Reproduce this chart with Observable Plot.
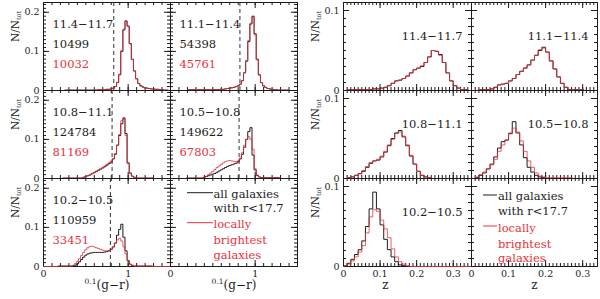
<!DOCTYPE html>
<html><head><meta charset="utf-8">
<script src="https://cdn.jsdelivr.net/npm/d3@7"></script>
<script src="https://cdn.jsdelivr.net/npm/@observablehq/plot@0.6"></script>
<style>
body{margin:0;background:#fff}
#c{position:relative;width:600px;height:299px;overflow:hidden;background:#fff}
#c svg text{font-family:"DejaVu Serif",serif}
</style></head><body><div id="c"></div>
<script>
// ---------- data ----------
const massLabels = ["11.4−11.7","11.1−11.4","10.8−11.1","10.5−10.8","10.2−10.5"];
const nAll = ["10499","54398","124784","149622","110959"];
const nBright = ["10032","45761","81169","67803","33451"];
const colorCut = [0.83, 0.82, 0.81, 0.81, 0.79];
const colorStep = 0.025;
const colorStartAll = [0.5, 0.4, 0.45, 0.375, 0.35];
const colorStartBright = [0.5, 0.4, 0.45, 0.375, 0.325];
const colorAll = [
  [0.001,0.001,0.001,0.001,0.001,0.001,0.002,0.002,0.002,0.002,0.003,0.003,0.004,0.006,0.010,0.020,0.040,0.100,0.155,0.178,0.165,0.120,0.080,0.050,0.030,0.018,0.012,0.009,0.007,0.006,0.005,0.004,0.004,0.003,0.003,0.002,0.002,0.001,0.001],
  [0.002,0.002,0.002,0.002,0.002,0.002,0.002,0.002,0.003,0.003,0.004,0.005,0.006,0.007,0.008,0.010,0.012,0.016,0.025,0.045,0.075,0.125,0.170,0.190,0.145,0.080,0.040,0.020,0.012,0.008,0.005,0.004,0.003,0.002,0.002,0.001,0.001],
  [0.001,0.003,0.005,0.007,0.009,0.012,0.015,0.018,0.021,0.024,0.027,0.030,0.034,0.038,0.042,0.050,0.062,0.085,0.110,0.140,0.153,0.115,0.040,0.014,0.006,0.003,0.001],
  [0.001,0.003,0.005,0.007,0.009,0.011,0.013,0.016,0.019,0.022,0.025,0.028,0.031,0.033,0.035,0.037,0.039,0.043,0.050,0.062,0.080,0.100,0.120,0.130,0.060,0.022,0.008,0.004,0.002],
  [0.001,0.003,0.007,0.012,0.018,0.024,0.029,0.032,0.034,0.035,0.036,0.036,0.036,0.036,0.036,0.037,0.038,0.040,0.044,0.050,0.060,0.080,0.095,0.108,0.075,0.040,0.015,0.006,0.003,0.001]
];
const colorBright = [
  [0.001,0.001,0.001,0.001,0.001,0.001,0.002,0.002,0.002,0.002,0.003,0.003,0.004,0.006,0.010,0.021,0.042,0.102,0.157,0.176,0.163,0.119,0.079,0.050,0.030,0.018,0.012,0.009,0.007,0.006,0.005,0.004,0.004,0.003,0.003,0.002,0.002,0.001,0.001],
  [0.002,0.002,0.002,0.002,0.002,0.002,0.002,0.002,0.003,0.003,0.004,0.005,0.006,0.007,0.008,0.010,0.012,0.016,0.025,0.046,0.077,0.128,0.172,0.188,0.142,0.078,0.039,0.020,0.012,0.008,0.005,0.004,0.003,0.002,0.002,0.001,0.001],
  [0.001,0.003,0.005,0.008,0.010,0.013,0.016,0.019,0.022,0.025,0.028,0.032,0.036,0.040,0.044,0.051,0.064,0.086,0.113,0.148,0.156,0.110,0.038,0.013,0.006,0.003,0.001],
  [0.001,0.003,0.006,0.010,0.014,0.018,0.023,0.028,0.032,0.036,0.040,0.043,0.045,0.046,0.045,0.044,0.043,0.045,0.052,0.066,0.085,0.100,0.107,0.100,0.075,0.025,0.009,0.004,0.002],
  [0.001,0.003,0.007,0.013,0.020,0.028,0.036,0.043,0.048,0.051,0.052,0.050,0.048,0.046,0.044,0.042,0.040,0.040,0.041,0.044,0.050,0.060,0.068,0.072,0.065,0.050,0.032,0.015,0.006,0.003,0.001]
];
const zStep = 0.01;
const zStart = 0.005;
const zAll = [
  [0,0.001,0.001,0.001,0.001,0.001,0.001,0.001,0.002,0.002,0.003,0.004,0.006,0.009,0.012,0.013,0.015,0.018,0.022,0.026,0.028,0.030,0.035,0.042,0.050,0.049,0.045,0.035,0.022,0.012,0.006,0.003,0.001,0.001,0],
  [0,0,0.001,0.001,0.001,0.002,0.004,0.007,0.008,0.009,0.012,0.015,0.020,0.024,0.028,0.032,0.038,0.044,0.050,0.054,0.048,0.037,0.027,0.017,0.009,0.004,0.001],
  [0,0.001,0.002,0.004,0.006,0.009,0.014,0.019,0.022,0.023,0.027,0.033,0.041,0.050,0.057,0.060,0.052,0.041,0.028,0.018,0.009,0.004,0.002,0.001,0],
  [0,0.001,0.004,0.007,0.012,0.018,0.027,0.038,0.046,0.048,0.056,0.071,0.057,0.042,0.026,0.014,0.008,0.004,0.002,0.001,0],
  [0.001,0.004,0.009,0.015,0.021,0.032,0.050,0.072,0.093,0.072,0.052,0.034,0.021,0.012,0.006,0.002,0.001,0]
];
const zBright = [
  [0,0.001,0.001,0.001,0.001,0.001,0.001,0.001,0.002,0.002,0.003,0.004,0.006,0.009,0.012,0.013,0.015,0.018,0.022,0.026,0.028,0.031,0.035,0.042,0.050,0.049,0.044,0.035,0.022,0.012,0.006,0.003,0.001,0.001,0],
  [0,0,0.001,0.001,0.001,0.002,0.004,0.007,0.008,0.009,0.012,0.015,0.020,0.024,0.028,0.032,0.038,0.044,0.051,0.053,0.048,0.037,0.027,0.017,0.009,0.004,0.001],
  [0,0.001,0.002,0.004,0.006,0.010,0.015,0.020,0.022,0.024,0.028,0.034,0.042,0.049,0.056,0.058,0.053,0.042,0.029,0.018,0.009,0.004,0.002,0.001,0],
  [0,0.002,0.005,0.008,0.012,0.017,0.024,0.034,0.042,0.048,0.057,0.063,0.058,0.047,0.034,0.022,0.014,0.007,0.003,0.002,0.001],
  [0.001,0.003,0.007,0.012,0.018,0.026,0.042,0.062,0.071,0.069,0.058,0.047,0.036,0.022,0.012,0.006,0.003,0.001,0]
];
const colorTickValues = [0, 1];
const colorTickLabels = ["0", "1"];
const zTickValues = [0, 0.1, 0.2, 0.3];
const zTickLabels = ["0", "0.1", "0.2", "0.3"];
const fracTickValuesColor = [0, 0.1, 0.2];
const fracTickLabelsColor = ["0", "0.1", "0.2"];
const fracTickValuesZ = [0, 0.1];
const fracTickLabelsZ = ["0", "0.1"];
const legendAll = ["all galaxies", "with r<17.7"];
const legendBright = ["locally", "brightest", "galaxies"];

// ---------- drawing ----------
const ink = "#1c1c1c";
const red = "#e8323c";
const FONT = "DejaVu Serif";
const container = document.getElementById("c");

function series(start, step, values, domain) {
  const pts = [{x: domain[0], y: 0}];
  values.forEach((v, i) => pts.push({x: start + i * step, y: v}));
  pts.push({x: domain[1], y: 0});
  return pts;
}

function txt(data, opts) {
  return Plot.text(data, {fontFamily: FONT, fill: ink, ...opts});
}

function panel(cfg) {
  const {left, top, width, height, xDomain, yDomain, xMinor, xMajor, yMinor, yMajor} = cfg;
  const marks = [
    Plot.ruleX(xMinor, {insetTop: height - 3, stroke: ink}),
    Plot.ruleX(xMinor, {insetBottom: height - 3, stroke: ink}),
    Plot.ruleX(xMajor, {insetTop: height - 6, stroke: ink}),
    Plot.ruleX(xMajor, {insetBottom: height - 6, stroke: ink}),
    Plot.ruleY(yMinor, {insetRight: width - 3, stroke: ink}),
    Plot.ruleY(yMinor, {insetLeft: width - 3, stroke: ink}),
    Plot.ruleY(yMajor, {insetRight: width - 6, stroke: ink}),
    Plot.ruleY(yMajor, {insetLeft: width - 6, stroke: ink}),
    Plot.frame({stroke: ink}),
    ...(cfg.marks || [])
  ];
  const svg = Plot.plot({
    width, height, margin: 0,
    x: {domain: xDomain, axis: null},
    y: {domain: yDomain, axis: null},
    style: `position:absolute;left:${left}px;top:${top}px;overflow:visible;background:none;font-family:'DejaVu Serif',serif;color:${ink}`,
    marks
  });
  container.appendChild(svg);
  // rich text: subscripts / superscripts
  d3.select(svg).selectAll("text").each(function () {
    const t = this.textContent;
    const s = d3.select(this);
    if (t === "N/Ntot") {
      s.text(null);
      s.append("tspan").text("N/N");
      s.append("tspan").attr("font-size", 6.5).attr("dy", 2.5).text("tot");
    } else if (t === "0.1(g−r)") {
      s.text(null);
      s.append("tspan").attr("font-size", 7.5).attr("dy", -4.5).text("0.1");
      s.append("tspan").attr("font-size", 12).attr("dy", 4.5).text("(g−r)");
    }
  });
  if (cfg.legendLines) {
    for (const L of cfg.legendLines) {
      d3.select(svg).append("line").attr("x1", L.x1).attr("x2", L.x2)
        .attr("y1", L.y).attr("y2", L.y).attr("stroke", L.color).attr("stroke-width", 1);
    }
  }
  return svg;
}

const rowTop = [2, 90, 178];
const rowH = 88;

function bottomLabels(values, labels) {
  const d = values.map((v, i) => ({v, label: labels[i]}));
  return txt(d, {x: "v", text: "label", frameAnchor: "bottom", dy: 10, fontSize: 9.5});
}
function leftLabels(values, labels) {
  const d = values.map((v, i) => ({v, label: labels[i]}));
  return txt(d, {y: "v", text: "label", frameAnchor: "left", dx: -4, textAnchor: "end", fontSize: 9.5});
}
function yTitle() {
  return txt(["N/Ntot"], {frameAnchor: "top-left", textAnchor: "middle", dx: -32, dy: 24, rotate: -90, fontSize: 10.5});
}

// Left grid: colour histograms
const LX = [43, 170], LW = 127;
const cDomain = [0, 1.5], cY = [0, 0.225];
const cxMinor = d3.range(0, 1.5001, 0.1);
const cyMinor = d3.range(0, 0.2251, 0.01);

for (let k = 0; k < 6; k++) {
  const row = Math.floor(k / 2), col = k % 2;
  const marks = [];
  if (k < 5) {
    marks.push(Plot.ruleX([colorCut[k]], {stroke: "#333", strokeDasharray: "4,3"}));
    marks.push(Plot.line(series(colorStartAll[k], colorStep, colorAll[k], cDomain), {x: "x", y: "y", curve: "step", stroke: ink, strokeWidth: 1}));
    marks.push(Plot.line(series(colorStartBright[k], colorStep, colorBright[k], cDomain), {x: "x", y: "y", curve: "step", stroke: red, strokeWidth: 1, strokeOpacity: 0.78}));
    marks.push(txt([massLabels[k]], {frameAnchor: "top-left", dx: 9, dy: 17, textAnchor: "start", fontSize: 11.5}));
    marks.push(txt([nAll[k]], {frameAnchor: "top-left", dx: 9, dy: 37, textAnchor: "start", fontSize: 11.5}));
    marks.push(txt([nBright[k]], {frameAnchor: "top-left", dx: 9, dy: 57, textAnchor: "start", fontSize: 11.5, fill: red}));
  } else {
    const dys = [11, 25.6];
    legendAll.forEach((s, i) => marks.push(txt([s], {frameAnchor: "top-left", dx: 43, dy: dys[i], textAnchor: "start", fontSize: 11.5, style: "letter-spacing:0.5px"})));
    const dys2 = [41.6, 57.3, 72.4];
    legendBright.forEach((s, i) => marks.push(txt([s], {frameAnchor: "top-left", dx: 43, dy: dys2[i], textAnchor: "start", fontSize: 11.5, fill: red, style: "letter-spacing:0.5px"})));
  }
  if (col === 0) {
    marks.push(leftLabels(fracTickValuesColor, fracTickLabelsColor));
    marks.push(yTitle());
  }
  if (row === 2) {
    marks.push(bottomLabels(colorTickValues, colorTickLabels));
    marks.push(txt(["0.1(g−r)"], {frameAnchor: "bottom", textAnchor: "middle", dy: 22, fontSize: 12}));
  }
  panel({
    left: LX[col], top: rowTop[row], width: LW, height: rowH,
    xDomain: cDomain, yDomain: cY,
    xMinor: cxMinor, xMajor: colorTickValues, yMinor: cyMinor, yMajor: fracTickValuesColor,
    marks,
    legendLines: k === 5 ? [{x1: 17, x2: 43, y: 14.7, color: ink}, {x1: 17, x2: 43, y: 44.7, color: red}] : null
  });
}

// Right grid: redshift histograms
const RX = [343, 471], RW = [128, 126];
const zDomains = [[0, 0.35], [0, 0.34]];
const zY = [0, 0.11];
const zyMinor = d3.range(0, 0.1101, 0.01);

for (let k = 0; k < 6; k++) {
  const row = Math.floor(k / 2), col = k % 2;
  const zd = zDomains[col];
  const marks = [];
  if (k < 5) {
    marks.push(Plot.line(series(zStart, zStep, zAll[k], zd), {x: "x", y: "y", curve: "step", stroke: ink, strokeWidth: 1}));
    marks.push(Plot.line(series(zStart, zStep, zBright[k], zd), {x: "x", y: "y", curve: "step", stroke: red, strokeWidth: 1, strokeOpacity: 0.78}));
    marks.push(txt([massLabels[k]], {frameAnchor: "top-right", dx: -9, dy: 29, textAnchor: "end", fontSize: 11.5}));
  } else {
    const dys = [13.3, 28.3];
    legendAll.forEach((s, i) => marks.push(txt([s], {frameAnchor: "top-left", dx: 26.5, dy: dys[i], textAnchor: "start", fontSize: 11.5, style: "letter-spacing:0.5px"})));
    const dys2 = [45, 61, 75.6];
    legendBright.forEach((s, i) => marks.push(txt([s], {frameAnchor: "top-left", dx: 26.5, dy: dys2[i], textAnchor: "start", fontSize: 11.5, fill: red, style: "letter-spacing:0.5px"})));
  }
  if (col === 0) {
    marks.push(leftLabels(fracTickValuesZ, fracTickLabelsZ));
    marks.push(yTitle());
  }
  if (row === 2) {
    marks.push(bottomLabels(zTickValues, zTickLabels));
    marks.push(txt(["z"], {frameAnchor: "bottom", textAnchor: "middle", dx: col === 0 ? -22 : 0, dy: 22, fontSize: 12}));
  }
  panel({
    left: RX[col], top: rowTop[row], width: RW[col], height: rowH,
    xDomain: zd, yDomain: zY,
    xMinor: d3.range(0, zd[1] + 0.0001, 0.01), xMajor: zTickValues, yMinor: zyMinor, yMajor: fracTickValuesZ,
    marks,
    legendLines: k === 5 ? [{x1: 12, x2: 26, y: 17, color: ink}, {x1: 12, x2: 26, y: 48, color: red}] : null
  });
}
</script></body></html>
